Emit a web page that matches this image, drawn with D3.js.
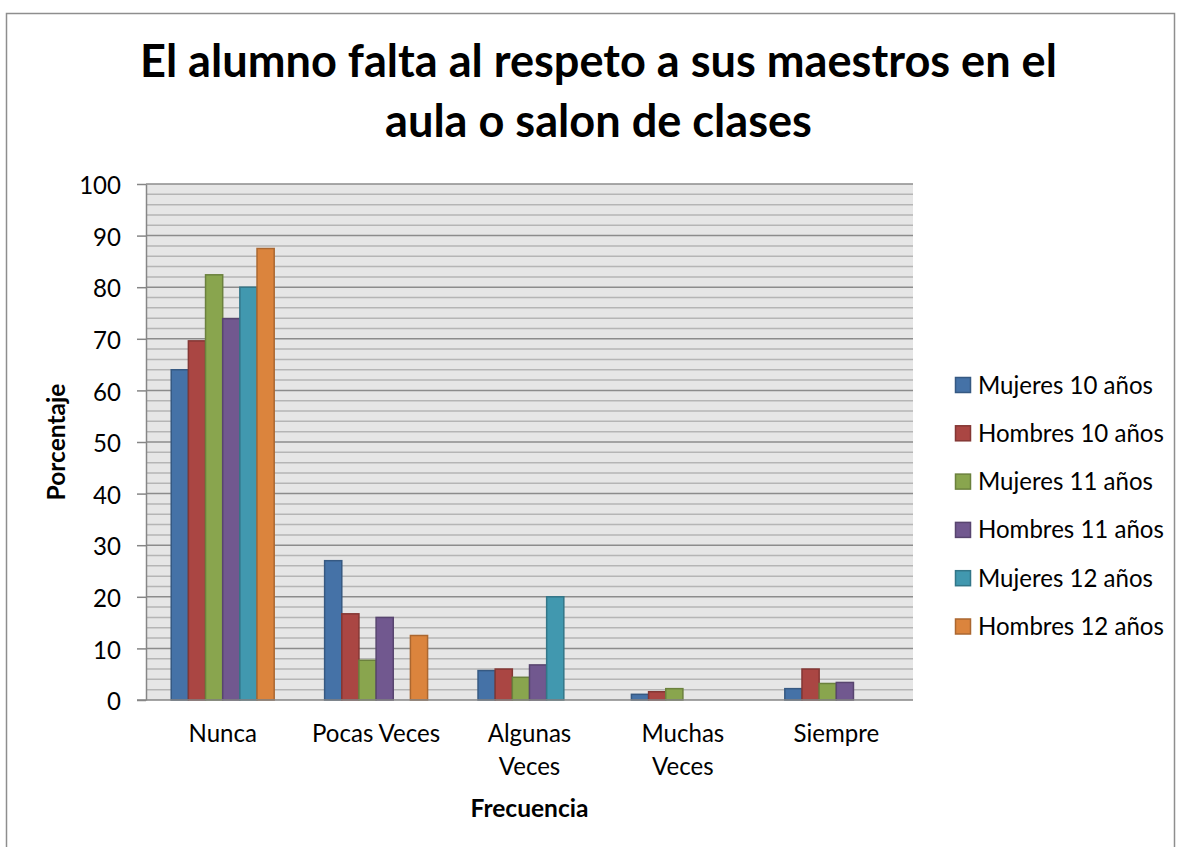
<!DOCTYPE html>
<html>
<head>
<meta charset="utf-8">
<script src="https://cdn.jsdelivr.net/npm/d3@7"></script>
<style>
body { margin: 0; background: #fff; }
svg text { font-family: Lato, "Open Sans", sans-serif; fill: #000; }
</style>
</head>
<body>
<svg id="chart" width="1177" height="847"></svg>
<script>
var titleLines = ["El alumno falta al respeto a sus maestros en el", "aula o salon de clases"];
var categories = ["Nunca", "Pocas Veces", "Algunas Veces", "Muchas Veces", "Siempre"];
var seriesNames = ["Mujeres 10 años", "Hombres 10 años", "Mujeres 11 años",
                   "Hombres 11 años", "Mujeres 12 años", "Hombres 12 años"];
var mujeres10 = [64, 27, 5.7, 1.1, 2.2];
var hombres10 = [69.6, 16.7, 6.0, 1.6, 6.0];
var mujeres11 = [82.4, 7.7, 4.4, 2.2, 3.2];
var hombres11 = [73.9, 16.0, 6.8, 0, 3.4];
var mujeres12 = [80, 0, 20, 0, 0];
var hombres12 = [87.5, 12.5, 0, 0, 0];
var seriesValues = [mujeres10, hombres10, mujeres11, hombres11, mujeres12, hombres12];
var colors = ["#4572a7", "#aa4643", "#89a54e", "#71588f", "#4198af", "#db843d"];
var yTicks = [0, 10, 20, 30, 40, 50, 60, 70, 80, 90, 100];
var yMinorTicks = d3.range(0, 101, 2);

function drawChart() {
    var svg = d3.select("#chart");
    var left = 146, right = 913, top = 184, bottom = 700;

    // size fonts so the widths match the original Calibri text
    function fitSize(str, weight, target) {
        var t = svg.append("text").attr("font-size", 100).attr("font-weight", weight).text(str);
        var w = t.node().getComputedTextLength();
        t.remove();
        return 100 * target / w;
    }
    var titleSize = fitSize(titleLines[0], "bold", 917);
    var baseSize = fitSize("Hombres 10 años", "normal", 186);
    var boldSize = fitSize("Frecuencia", "bold", 118);

    // outer border
    svg.append("rect")
       .attr("x", 6.5).attr("y", 13.5)
       .attr("width", 1168).attr("height", 900)
       .attr("fill", "none")
       .attr("stroke", "#8e8e8e")
       .attr("stroke-width", 1.5);

    svg.selectAll(".title")
       .data(titleLines)
       .enter().append("text")
       .attr("class", "title")
       .attr("x", 598.5)
       .attr("y", function(d, i) { return 77 + i * 60; })
       .attr("text-anchor", "middle")
       .attr("font-size", titleSize)
       .attr("font-weight", "bold")
       .text(function(d) { return d; });

    var x0 = d3.scaleBand().domain(categories).range([left, right]).padding(0);
    var x1 = d3.scaleBand().domain(seriesNames).range([0, x0.bandwidth()])
               .paddingInner(0).paddingOuter(1.47);
    var y = d3.scaleLinear().domain([0, 100]).range([bottom, top]);

    // plot background
    svg.append("rect")
       .attr("x", left).attr("y", top)
       .attr("width", right - left).attr("height", bottom - top)
       .attr("fill", "#e6e6e6");

    // minor gridlines
    svg.append("g")
       .selectAll("line")
       .data(yMinorTicks.filter(function(d) { return d % 10 !== 0; }))
       .enter().append("line")
       .attr("x1", left).attr("x2", right)
       .attr("y1", function(d) { return y(d); })
       .attr("y2", function(d) { return y(d); })
       .attr("stroke", "#b5b5b5")
       .attr("stroke-width", 1.5);

    // major gridlines
    svg.append("g")
       .selectAll("line")
       .data(yTicks.filter(function(d) { return d > 0; }))
       .enter().append("line")
       .attr("x1", left).attr("x2", right)
       .attr("y1", function(d) { return y(d); })
       .attr("y2", function(d) { return y(d); })
       .attr("stroke", "#8c8c8c")
       .attr("stroke-width", 1.5);

    // bars
    var groups = svg.append("g")
       .selectAll("g")
       .data(seriesNames)
       .enter().append("g")
       .attr("fill", function(d, i) { return colors[i]; })
       .attr("stroke", function(d, i) { return d3.color(colors[i]).darker(0.7); });

    groups.selectAll("rect")
       .data(function(d, i) {
           return categories.map(function(c, j) {
               return { cat: c, name: d, value: seriesValues[i][j] };
           }).filter(function(b) { return b.value > 0; });
       })
       .enter().append("rect")
       .attr("x", function(d) { return x0(d.cat) + x1(d.name); })
       .attr("y", function(d) { return y(d.value); })
       .attr("width", x1.bandwidth())
       .attr("height", function(d) { return bottom - y(d.value); })
       .attr("stroke-width", 1.5);

    // y axis
    var yAxis = svg.append("g")
       .attr("transform", "translate(" + left + ",0)")
       .call(d3.axisLeft(y).tickValues(yTicks).tickSize(9).tickSizeOuter(0).tickPadding(16));
    yAxis.select(".domain").attr("stroke", "#868686").attr("stroke-width", 1.5);
    yAxis.selectAll(".tick line").attr("stroke", "#868686").attr("stroke-width", 1.5);
    yAxis.selectAll(".tick text")
       .attr("font-size", baseSize)
       .attr("font-family", "Lato, 'Open Sans', sans-serif")
       .attr("fill", "#000")
       .attr("dy", "0.4em");

    // x axis line
    svg.append("line")
       .attr("x1", left - 9).attr("x2", right)
       .attr("y1", bottom).attr("y2", bottom)
       .attr("stroke", "#868686")
       .attr("stroke-width", 1.5);

    // category labels, wrapped like the original
    var xLabels = svg.append("g")
       .selectAll("text")
       .data(categories)
       .enter().append("text")
       .attr("x", function(d) { return x0(d) + x0.bandwidth() / 2; })
       .attr("y", 742)
       .attr("text-anchor", "middle")
       .attr("font-size", baseSize);

    xLabels.each(function(d) {
        var el = d3.select(this);
        var words = d.split(" ");
        var lines = [words[0]];
        for (var k = 1; k < words.length; k++) {
            var test = lines[lines.length - 1] + " " + words[k];
            el.text(test);
            if (el.node().getComputedTextLength() > 140) {
                lines.push(words[k]);
            } else {
                lines[lines.length - 1] = test;
            }
        }
        el.text(null);
        lines.forEach(function(l, k) {
            el.append("tspan")
              .attr("x", x0(d) + x0.bandwidth() / 2)
              .attr("y", 742 + k * 33)
              .text(l);
        });
    });

    // axis titles
    svg.append("text")
       .attr("x", (left + right) / 2)
       .attr("y", 817)
       .attr("text-anchor", "middle")
       .attr("font-size", boldSize)
       .attr("font-weight", "bold")
       .text("Frecuencia");

    svg.append("text")
       .attr("transform", "translate(65," + ((top + bottom) / 2) + ") rotate(-90)")
       .attr("text-anchor", "middle")
       .attr("font-size", boldSize)
       .attr("font-weight", "bold")
       .text("Porcentaje");

    // legend
    var legend = svg.append("g")
       .selectAll("g")
       .data(seriesNames)
       .enter().append("g")
       .attr("transform", function(d, i) { return "translate(955," + (385 + i * 48.3) + ")"; });

    legend.append("rect")
       .attr("x", 0.5).attr("y", -7.5)
       .attr("width", 15).attr("height", 15)
       .attr("fill", function(d, i) { return colors[i]; })
       .attr("stroke", function(d, i) { return d3.color(colors[i]).darker(0.7); })
       .attr("stroke-width", 1.5);

    legend.append("text")
       .attr("x", 23)
       .attr("y", 8.5)
       .attr("font-size", baseSize)
       .text(function(d) { return d; });
}

drawChart();
</script>
</body>
</html>
